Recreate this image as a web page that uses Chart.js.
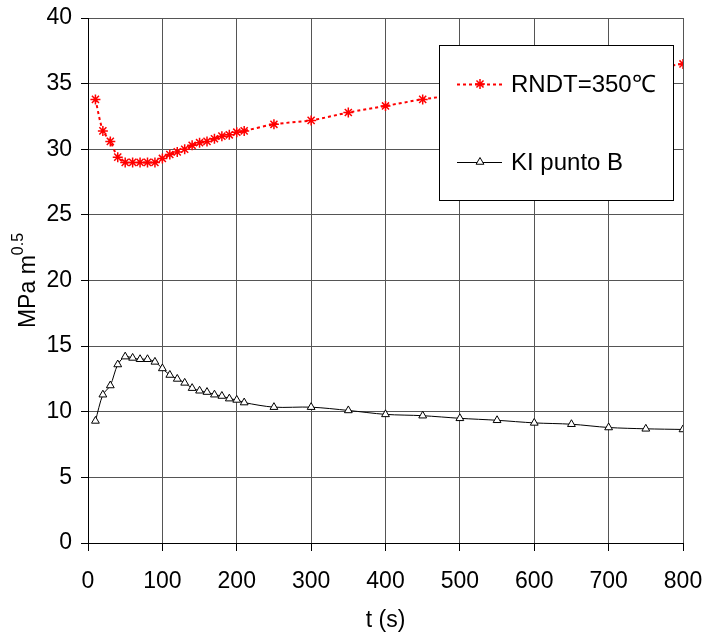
<!DOCTYPE html>
<html>
<head>
<meta charset="utf-8">
<script src="https://cdn.jsdelivr.net/npm/chart.js@4/dist/chart.umd.min.js"></script>
<style>
    html, body { margin: 0; padding: 0; background: #fff; }
    #contenedor { width: 705px; height: 640px; }
</style>
</head>
<body>
<div id="contenedor"><canvas id="grafica" width="705" height="640"></canvas></div>
<script>
// datos
const tiempoRndt = [10, 20, 30, 40, 50, 60, 70, 80, 90, 100, 110, 120, 130, 140, 150, 160, 170, 180, 190, 200, 210, 250, 300, 350, 400, 450, 800];
const valoresRndt = [33.8, 31.4, 30.6, 29.4, 29.0, 29.0, 29.0, 29.0, 29.0, 29.3, 29.6, 29.8, 30.0, 30.3, 30.5, 30.6, 30.8, 31.0, 31.1, 31.3, 31.4, 31.9, 32.2, 32.8, 33.3, 33.8, 36.5];

const tiempoKi = [10, 20, 30, 40, 50, 60, 70, 80, 90, 100, 110, 120, 130, 140, 150, 160, 170, 180, 190, 200, 210, 250, 300, 350, 400, 450, 500, 550, 600, 650, 700, 750, 800];
const valoresKi = [9.3, 11.3, 12.0, 13.6, 14.2, 14.1, 14.0, 14.0, 13.8, 13.3, 12.8, 12.5, 12.2, 11.8, 11.6, 11.5, 11.3, 11.2, 11.0, 10.9, 10.7, 10.35, 10.35, 10.1, 9.8, 9.7, 9.5, 9.35, 9.15, 9.05, 8.8, 8.7, 8.65];

const ticksX = [0, 100, 200, 300, 400, 500, 600, 700, 800];
const ticksY = [0, 5, 10, 15, 20, 25, 30, 35, 40];

const etiquetaRndt = 'RNDT=350\u2103';
const etiquetaKi = 'KI punto B';
const tituloX = 't (s)';

const fuente = '"Liberation Sans", Arial, sans-serif';

function puntos(xs, ys) {
    return xs.map((x, i) => ({ x: x, y: ys[i] }));
}

const estiloRndt = {
    borderColor: '#ff0000',
    borderWidth: 2,
    borderDash: [3, 3],
    pointStyle: 'star',
    pointRadius: 5,
    pointBorderColor: '#ff0000',
    pointBorderWidth: 1.5,
    pointBackgroundColor: '#ff0000'
};

const estiloKi = {
    borderColor: '#000000',
    borderWidth: 1,
    pointStyle: 'triangle',
    pointRadius: 4.5,
    pointBorderColor: '#000000',
    pointBorderWidth: 1,
    pointBackgroundColor: '#ffffff'
};

// titulo eje y con superindice
const tituloY = {
    id: 'tituloY',
    afterDraw(chart) {
        const ctx = chart.ctx;
        const area = chart.chartArea;
        ctx.save();
        ctx.fillStyle = '#000';
        ctx.textBaseline = 'alphabetic';
        const base = 'MPa m';
        ctx.font = '23px ' + fuente;
        const w1 = ctx.measureText(base).width;
        ctx.font = '16px ' + fuente;
        const w2 = ctx.measureText('0.5').width;
        const total = w1 + w2;
        const cy = (area.top + area.bottom) / 2;
        ctx.translate(35, cy + total / 2);
        ctx.rotate(-Math.PI / 2);
        ctx.font = '23px ' + fuente;
        ctx.fillText(base, 0, 0);
        ctx.font = '16px ' + fuente;
        ctx.fillText('0.5', w1, -12);
        ctx.restore();
    }
};

// leyenda dentro del area, con fondo blanco
const leyenda = {
    id: 'leyenda',
    afterDraw(chart) {
        const ctx = chart.ctx;
        const caja = { x: 439.5, y: 45.5, w: 234, h: 155 };
        ctx.save();
        ctx.fillStyle = '#fff';
        ctx.fillRect(caja.x, caja.y, caja.w, caja.h);
        ctx.strokeStyle = '#000';
        ctx.lineWidth = 1;
        ctx.strokeRect(caja.x, caja.y, caja.w, caja.h);

        const entradas = [
            { y: 84, texto: etiquetaRndt, e: estiloRndt },
            { y: 162, texto: etiquetaKi, e: estiloKi }
        ];
        entradas.forEach(ent => {
            ctx.save();
            ctx.strokeStyle = ent.e.borderColor;
            ctx.lineWidth = ent.e.borderWidth;
            ctx.setLineDash(ent.e.borderDash || []);
            ctx.beginPath();
            ctx.moveTo(457, ent.y + 0.5);
            ctx.lineTo(502, ent.y + 0.5);
            ctx.stroke();
            ctx.restore();
            ctx.save();
            ctx.fillStyle = ent.e.pointBackgroundColor;
            ctx.strokeStyle = ent.e.pointBorderColor;
            ctx.lineWidth = ent.e.pointBorderWidth;
            Chart.helpers.drawPoint(ctx, {
                pointStyle: ent.e.pointStyle,
                radius: ent.e.pointRadius,
                rotation: 0,
                borderWidth: ent.e.pointBorderWidth
            }, 480, ent.y);
            ctx.restore();
            ctx.fillStyle = '#000';
            ctx.font = '24px ' + fuente;
            ctx.textBaseline = 'middle';
            ctx.fillText(ent.texto, 511, ent.y + 1);
        });
        ctx.restore();
    }
};

const config = {
    type: 'line',
    data: {
        datasets: [
            Object.assign({ label: etiquetaRndt, data: puntos(tiempoRndt, valoresRndt), tension: 0.3, fill: false }, estiloRndt),
            Object.assign({ label: etiquetaKi, data: puntos(tiempoKi, valoresKi), tension: 0.3, fill: false }, estiloKi)
        ]
    },
    options: {
        responsive: false,
        animation: false,
        layout: { padding: { top: 18, right: 22, left: 0, bottom: 0 } },
        plugins: {
            legend: { display: false },
            tooltip: { enabled: false }
        },
        scales: {
            x: {
                type: 'linear',
                min: 0,
                max: 800,
                afterBuildTicks: (s) => { s.ticks = ticksX.map(v => ({ value: v })); },
                afterFit: (s) => { s.height = 97; s.paddingLeft = 0; s.paddingRight = 0; },
                border: { display: true, color: '#000', width: 1 },
                grid: { color: '#555', lineWidth: 1, drawTicks: true, tickLength: 8, tickColor: '#000' },
                ticks: { color: '#000', font: { family: fuente, size: 23 }, padding: 17, maxRotation: 0 },
                title: { display: true, text: tituloX, color: '#000', font: { family: fuente, size: 23 }, padding: { top: 0, bottom: 6 } }
            },
            y: {
                min: 0,
                max: 40,
                afterBuildTicks: (s) => { s.ticks = ticksY.map(v => ({ value: v })); },
                afterFit: (s) => { s.width = 88; s.paddingTop = 0; s.paddingBottom = 0; },
                border: { display: true, color: '#000', width: 1 },
                grid: { color: '#555', lineWidth: 1, drawTicks: true, tickLength: 7, tickColor: '#000' },
                ticks: { color: '#000', font: { family: fuente, size: 23 }, padding: 9 }
            }
        }
    },
    plugins: [tituloY, leyenda]
};

new Chart(document.getElementById('grafica'), config);
</script>
</body>
</html>
